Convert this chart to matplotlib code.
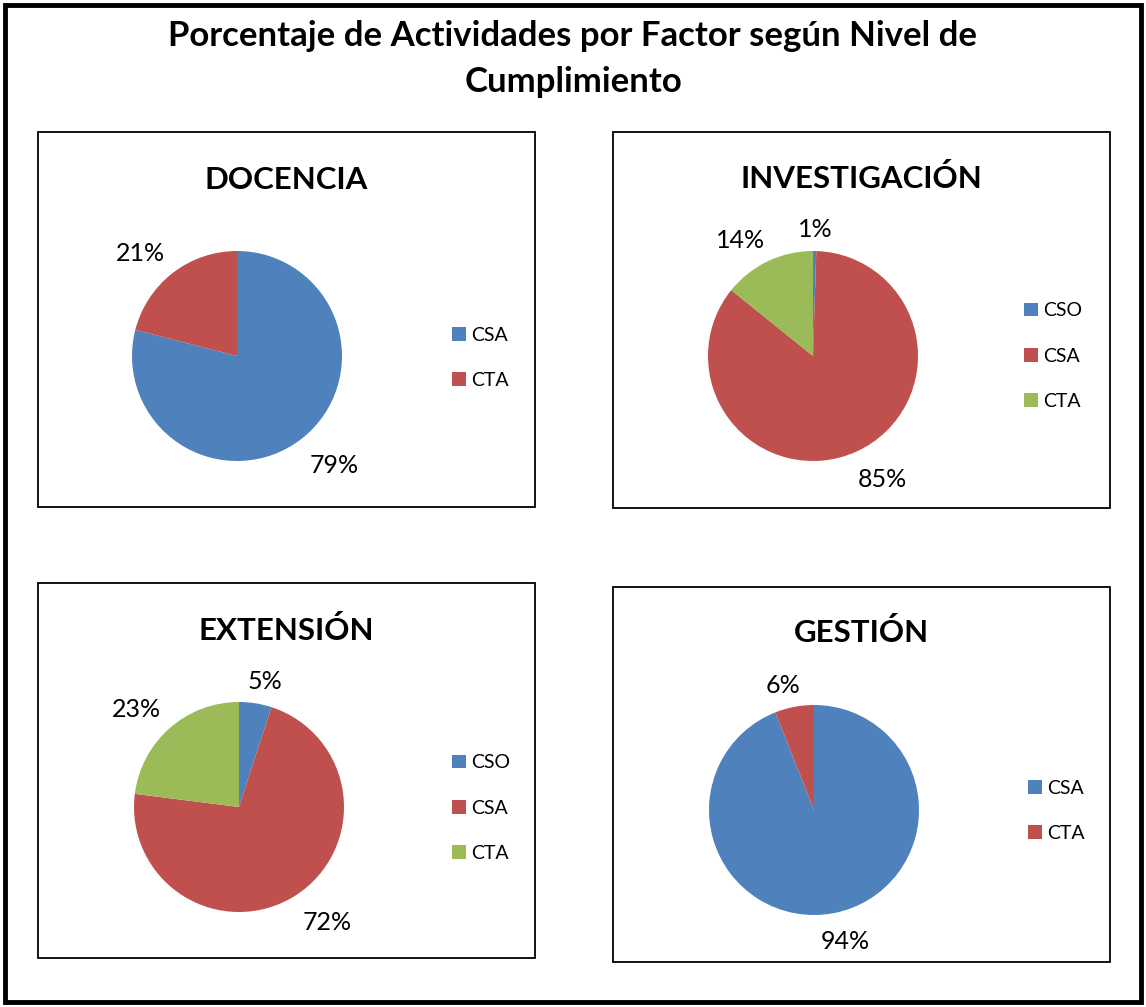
import matplotlib
matplotlib.use("Agg")
import matplotlib.pyplot as plt
import numpy as np
from matplotlib.patches import Rectangle

plt.rcParams['font.family'] = ['Lato', 'DejaVu Sans']

W, H = 1146, 1007
DPI = 100

# ---------------- data ----------------
main_title = "Porcentaje de Actividades por Factor según Nivel de\nCumplimiento"

docencia_labels = ["CSA", "CTA"]
docencia_values = [79, 21]

investigacion_labels = ["CSO", "CSA", "CTA"]
investigacion_values = [0.5, 85.3, 14.2]

extension_labels = ["CSO", "CSA", "CTA"]
extension_values = [5, 72, 23]

gestion_labels = ["CSA", "CTA"]
gestion_values = [94, 6]

colors = ["#4F81BD", "#C0504D", "#9BBB59"]

# ---------------- layout (pixels) ----------------
panels = [
    dict(title="DOCENCIA", labels=docencia_labels, values=docencia_values,
         box=(38, 132, 535, 507), center=(237, 356), title_y=180, leg_x=452, leg_y=358),
    dict(title="INVESTIGACIÓN", labels=investigacion_labels, values=investigacion_values,
         box=(613, 132, 1110, 508), center=(813, 356), title_y=178, leg_x=1024, leg_y=356),
    dict(title="EXTENSIÓN", labels=extension_labels, values=extension_values,
         box=(38, 583, 535, 958), center=(239, 807), title_y=630, leg_x=452, leg_y=808),
    dict(title="GESTIÓN", labels=gestion_labels, values=gestion_values,
         box=(613, 587, 1110, 962), center=(814, 810), title_y=632, leg_x=1028, leg_y=811),
]
R = 105


def fx(x):
    return x / W


def fy(y):
    return 1 - y / H


def soft_sign(v, k=2.0):
    return np.sign(v) * min(1.0, abs(v) * k)


fig = plt.figure(figsize=(W / DPI, H / DPI), dpi=DPI)
fig.patch.set_facecolor("white")

# outer border
fig.patches.append(Rectangle((fx(5), fy(1002)), fx(1136), 997 / H, transform=fig.transFigure,
                             fill=False, edgecolor="black", linewidth=3.5))

fig.text(0.5, fy(59), main_title, ha="center", va="center", fontsize=25,
         fontweight="bold", linespacing=1.5)

for p in panels:
    x0, y0, x1, y1 = p["box"]
    fig.patches.append(Rectangle((fx(x0), fy(y1)), (x1 - x0) / W, (y1 - y0) / H,
                                 transform=fig.transFigure, fill=False,
                                 edgecolor="black", linewidth=1.3))
    fig.text(fx((x0 + x1) / 2), fy(p["title_y"]), p["title"], ha="center", va="center",
             fontsize=22.5, fontweight="bold")

    cx, cy = p["center"]
    ax = fig.add_axes([fx(cx - R), fy(cy + R), 2 * R / W, 2 * R / H])
    wedges, _ = ax.pie(p["values"], colors=colors[:len(p["values"])], startangle=90,
                       counterclock=False, radius=1)
    ax.set_xlim(-1, 1)
    ax.set_ylim(-1, 1)
    ax.set_aspect("equal")
    ax.axis("off")

    total = sum(p["values"])
    for w, v in zip(wedges, p["values"]):
        th = np.deg2rad((w.theta1 + w.theta2) / 2)
        c, s = np.cos(th), np.sin(th)
        px = (R + 12) * c + 25 * soft_sign(c)
        py = (R + 12) * s + (10 if s > 0 else 17) * soft_sign(s)
        pct = int(v / total * 100 + 0.5)
        ax.text(px / R, py / R, f"{pct}%", ha="center", va="center",
                fontsize=18, clip_on=False)

    fig.legend(wedges, p["labels"], loc="center left",
               bbox_to_anchor=(fx(p["leg_x"]), fy(p["leg_y"])), frameon=False,
               handlelength=0.7, handleheight=0.7, handletextpad=0.3,
               labelspacing=1.45, borderpad=0, borderaxespad=0, fontsize=14)

fig.savefig("out.png", dpi=DPI)
